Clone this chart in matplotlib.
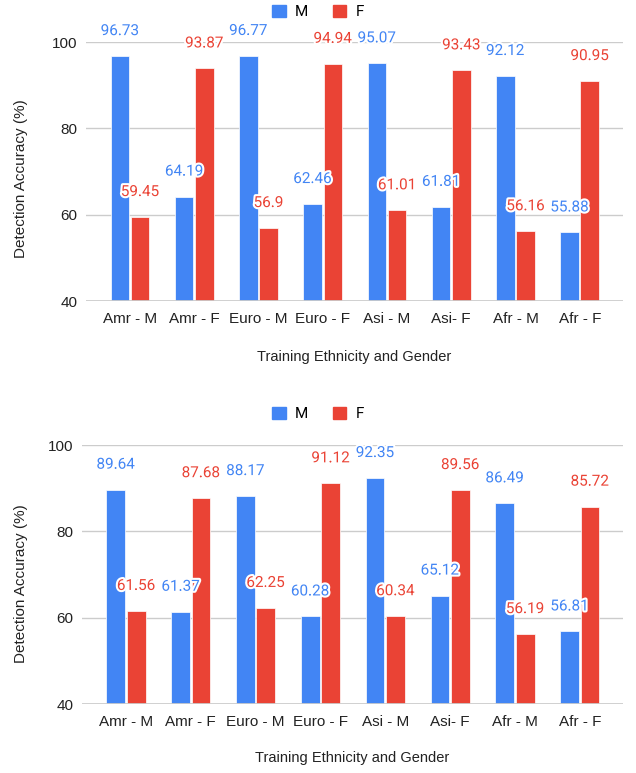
import matplotlib
matplotlib.use("Agg")
import matplotlib.pyplot as plt
import matplotlib.patheffects as pe
from matplotlib.patches import Patch
import numpy as np

categories = ["Amr - M", "Amr - F", "Euro - M", "Euro - F", "Asi - M", "Asi- F", "Afr - M", "Afr - F"]
top_m = [96.73, 64.19, 96.77, 62.46, 95.07, 61.81, 92.12, 55.88]
top_f = [59.45, 93.87, 56.9, 94.94, 61.01, 93.43, 56.16, 90.95]
bot_m = [89.64, 61.37, 88.17, 60.28, 92.35, 65.12, 86.49, 56.81]
bot_f = [61.56, 87.68, 62.25, 91.12, 60.34, 89.56, 56.19, 85.72]
yticks = [40, 60, 80, 100]
series_names = ["M", "F"]

BLUE = "#4285F4"
RED = "#EA4335"
W, H = 636, 773
SANS = ["Liberation Sans", "DejaVu Sans"]
ROBO = ["Roboto", "DejaVu Sans"]

fig = plt.figure(figsize=(W / 100, H / 100), dpi=100)

def make_ax(x0, x1, ytop, ybot, xlim):
    ax = fig.add_axes([x0 / W, 1 - ybot / H, (x1 - x0) / W, (ybot - ytop) / H])
    ax.set_xlim(*xlim)
    return ax

def draw(ax, m, f, legend_y, xlabel_y, ylabel_y):
    x = np.arange(len(categories))
    bw = 0.29
    off = 0.157
    for vals, o, col in ((m, -off, BLUE), (f, off, RED)):
        ax.bar(x + o, np.array(vals) - 40, bottom=40, width=bw, color=col,
               edgecolor="white", linewidth=0.5, zorder=3)
        for xi, v in zip(x + o, vals):
            ax.annotate(f"{v:g}", (xi, v), xytext=(0, 25), textcoords="offset pixels",
                        ha="center", va="center", color=col, fontsize=11,
                        family=ROBO, zorder=5, annotation_clip=False,
                        path_effects=[pe.withStroke(linewidth=3, foreground="white")])
    ax.set_ylim(40, 100)
    ax.set_yticks(yticks)
    ax.set_xticks(x)
    ax.set_xticklabels(categories)
    for lab in ax.get_xticklabels() + ax.get_yticklabels():
        lab.set_family(SANS)
        lab.set_fontsize(11)
        lab.set_color("#222222")
    ax.tick_params(length=0, pad=8)
    ax.tick_params(axis="y", pad=6)
    for s in ax.spines.values():
        s.set_visible(False)
    for t in yticks[1:]:
        ax.axhline(t, color="#cccccc", linewidth=1, zorder=1)
    ax.axhline(40, color="#cccccc", linewidth=2, zorder=4)
    fig.text(21 / W, 1 - ylabel_y / H, "Detection Accuracy (%)", rotation=90,
             ha="center", va="center", family=SANS, fontsize=11, color="#222222")
    pos = ax.get_position()
    fig.text(0.5 * (pos.x0 + pos.x1), 1 - xlabel_y / H,
             "Training Ethnicity and Gender", ha="center", va="center",
             family=SANS, fontsize=10.5, color="#222222")
    handles = [Patch(facecolor=BLUE, edgecolor=BLUE), Patch(facecolor=RED, edgecolor=RED)]
    fig.legend(handles, series_names, loc="center", bbox_to_anchor=(0.5, 1 - legend_y / H),
               ncol=2, frameon=False, prop={"family": ROBO, "size": 11},
               handlelength=0.9, handleheight=0.9, handletextpad=0.6, columnspacing=1.6)

ax1 = make_ax(86, 623, 42, 301, (-0.685, 7.674))
draw(ax1, top_m, top_f, 12, 357, 179)
ax2 = make_ax(82, 623, 445, 704, (-0.678, 7.667))
draw(ax2, bot_m, bot_f, 414, 758, 584)

fig.savefig("out.png", dpi=100)
